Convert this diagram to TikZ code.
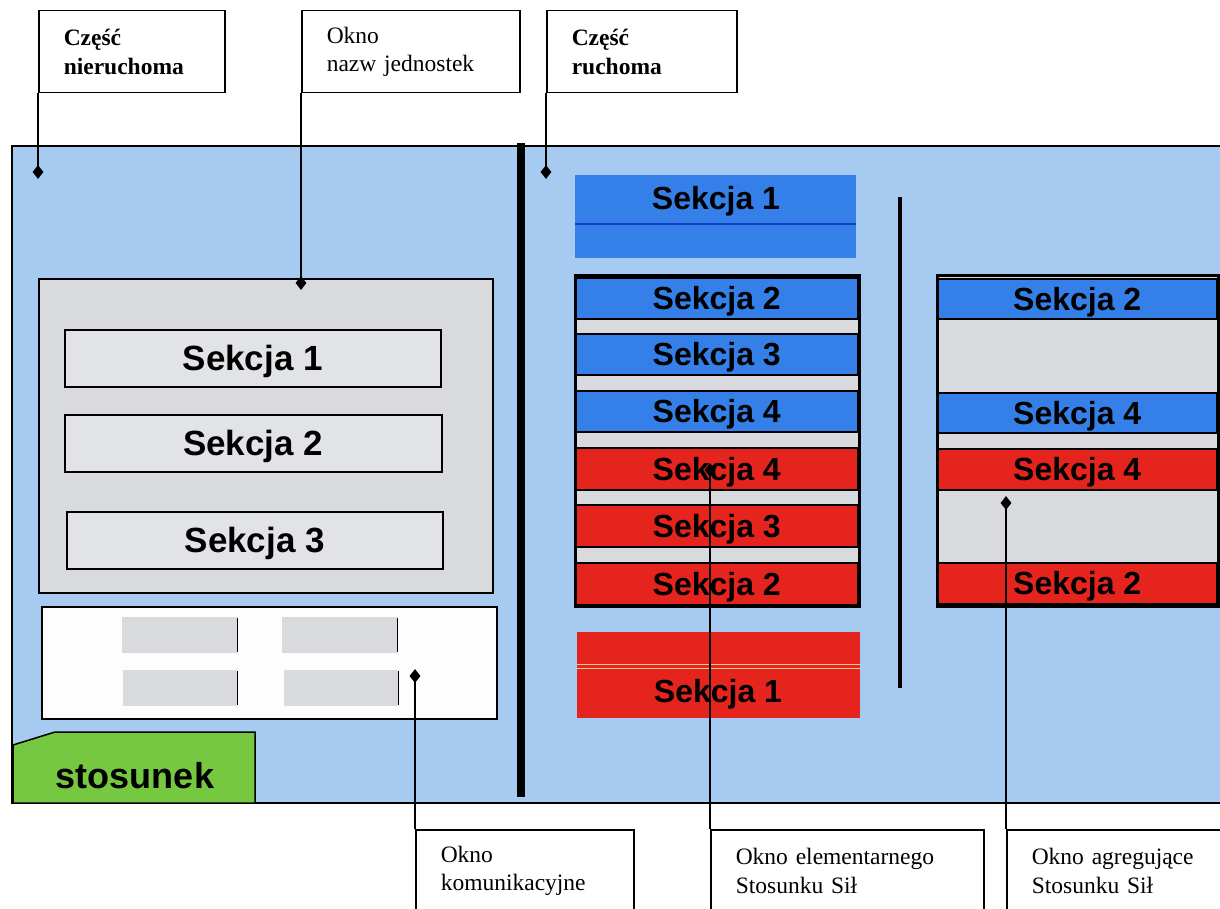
\documentclass[tikz,border=0pt]{standalone}
\usepackage{fontspec}
\setmainfont{Liberation Serif}
\setsansfont{Liberation Sans}
\usetikzlibrary{shapes.geometric}
\definecolor{panelblue}{RGB}{166,202,240}
\definecolor{secblue}{RGB}{52,128,232}
\definecolor{secred}{RGB}{230,36,30}
\definecolor{secgray}{RGB}{216,218,222}
\definecolor{boxgray}{RGB}{226,227,230}
\definecolor{tabgreen}{RGB}{118,200,64}
\definecolor{darkblue}{RGB}{20,60,200}
\definecolor{paleline}{RGB}{245,200,140}

\begin{document}
\begin{tikzpicture}[x=1pt, y=-1pt,
    callout/.style={draw, line width=1.5pt, fill=white, anchor=north west, inner xsep=25pt, inner ysep=0pt, minimum height=82pt, text width=#1, align=left, font=\fontsize{23.5}{28.5}\selectfont}, % ramki z opisami
    dot/.style={diamond, fill=black, inner sep=0pt, minimum width=11pt, minimum height=14pt},
    rect/.style={anchor=north west, inner sep=0pt},
    sec/.style={rect, draw, line width=1.5pt, text depth=0pt, font=\sffamily\bfseries\fontsize{32}{36}\selectfont},
    bigsec/.style={text depth=0pt, font=\sffamily\bfseries\fontsize{35}{40}\selectfont}
    ]
\clip (0,0) rectangle (1220,909);
\fill[white] (0,0) rectangle (1220,909);

% ekran
\draw[fill=panelblue, line width=1.5pt] (12,146) rectangle (1240,803);
\draw[line width=8pt] (521,143) -- (521,797);
\draw[line width=4pt] (900,197) -- (900,688);

% czesc nieruchoma
\node[rect, draw, line width=1.5pt, fill=secgray, minimum width=454pt, minimum height=314pt] (names) at (38,278) {};
\node[rect, draw, line width=1.5pt, fill=boxgray, minimum width=376pt, minimum height=57pt, bigsec] (n1) at (64,329) {Sekcja 1};
\node[rect, draw, line width=1.5pt, fill=boxgray, minimum width=377pt, minimum height=57pt, bigsec] (n2) at (64,414) {Sekcja 2};
\node[rect, draw, line width=1.5pt, fill=boxgray, minimum width=376pt, minimum height=57pt, bigsec] (n3) at (66,511) {Sekcja 3};

\node[rect, draw, line width=1.5pt, fill=white!95!secgray, minimum width=455pt, minimum height=112pt] (comm) at (41,606) {};
\fill[secgray] (122,617) rectangle (237,653);
\fill[secgray] (282,617) rectangle (397,653);
\fill[secgray] (123,670) rectangle (237,706);
\fill[secgray] (284,670) rectangle (398,706);
\draw[line width=1pt] (237,618) -- (237,652);
\draw[line width=1pt] (397,618) -- (397,652);
\draw[line width=1pt] (237,671) -- (237,705);
\draw[line width=1pt] (398,671) -- (398,705);

\draw[fill=tabgreen, line width=1.5pt] (13,745) -- (55,732) -- (255,732) -- (255,803) -- (13,803) -- cycle;
\node[font=\sffamily\bfseries\fontsize{36}{40}\selectfont] (tab) at (135,776) {stosunek};

% czesc ruchoma
\node[rect, fill=secblue, minimum width=281pt, minimum height=83pt] (top1) at (575,175) {};
\draw[darkblue, line width=2pt] (575,224) -- (856,224);
\node[text depth=0pt, font=\sffamily\bfseries\fontsize{32}{36}\selectfont] (top1t) at (716,198) {Sekcja 1};

\node[rect, draw, line width=3pt, fill=secgray, minimum width=284pt, minimum height=331pt] (elem) at (574,274) {};
\node[sec, fill=secblue, minimum width=282pt, minimum height=41pt] (e1) at (575,277) {Sekcja 2};
\node[sec, fill=secblue, minimum width=282pt, minimum height=41pt] (e2) at (575,333) {Sekcja 3};
\node[sec, fill=secblue, minimum width=282pt, minimum height=41pt] (e3) at (575,390) {Sekcja 4};
\node[sec, fill=secred, minimum width=282pt, minimum height=42pt] (e4) at (575,447) {Sekcja 4};
\node[sec, fill=secred, minimum width=282pt, minimum height=42pt] (e5) at (575,504) {Sekcja 3};
\node[sec, fill=secred, minimum width=282pt, minimum height=42pt] (e6) at (575,562) {Sekcja 2};

\node[rect, fill=secred, minimum width=283pt, minimum height=86pt] (bot1) at (577,632) {};
\draw[paleline, line width=1pt] (577,664) -- (860,664);
\draw[paleline, line width=1pt] (577,668) -- (860,668);
\node[text depth=0pt, font=\sffamily\bfseries\fontsize{32}{36}\selectfont] (bot1t) at (718,691) {Sekcja 1};

\node[rect, draw, line width=3pt, fill=secgray, minimum width=281pt, minimum height=331pt] (aggr) at (936,274) {};
\node[sec, fill=secblue, minimum width=279pt, minimum height=40pt] (a1) at (937,278) {Sekcja 2};
\node[sec, fill=secblue, minimum width=279pt, minimum height=40pt] (a2) at (937,392) {Sekcja 4};
\node[sec, fill=secred, minimum width=279pt, minimum height=41pt] (a3) at (937,448) {Sekcja 4};
\node[sec, fill=secred, minimum width=279pt, minimum height=41pt] (a4) at (937,562) {Sekcja 2};

% opisy
\node[callout=136pt] (nier) at (38,10) {\textbf{Część}\\\textbf{nieruchoma}};
\node[callout=168pt] (nazw) at (301,10) {Okno\\nazw jednostek};
\node[callout=140pt] (ruch) at (546,10) {\textbf{Część}\\\textbf{ruchoma}};
\node[callout=168pt] (kom) at (415,829) {Okno\\komunikacyjne};
\node[callout=223pt] (elemopis) at (710,829) {Okno elementarnego\\Stosunku Sił};
\node[callout=214pt] (agropis) at (1006,829) {Okno agregujące\\Stosunku Sił};

\node[dot] (d1) at (38,172) {};
\node[dot] (d2) at (301,283) {};
\node[dot] (d3) at (546,172) {};
\node[dot] (d4) at (415,676) {};
\node[dot] (d5) at (710,470) {};
\node[dot] (d6) at (1006,503) {};

\draw[line width=1.5pt] (nier.south west) -- (d1.center);
\draw[line width=1.5pt] (nazw.south west) -- (d2.center);
\draw[line width=1.5pt] (ruch.south west) -- (d3.center);
\draw[line width=1.5pt] (kom.north west) -- (d4.center);
\draw[line width=1.5pt] (elemopis.north west) -- (d5.center);
\draw[line width=1.5pt] (agropis.north west) -- (d6.center);
\end{tikzpicture}
\end{document}
